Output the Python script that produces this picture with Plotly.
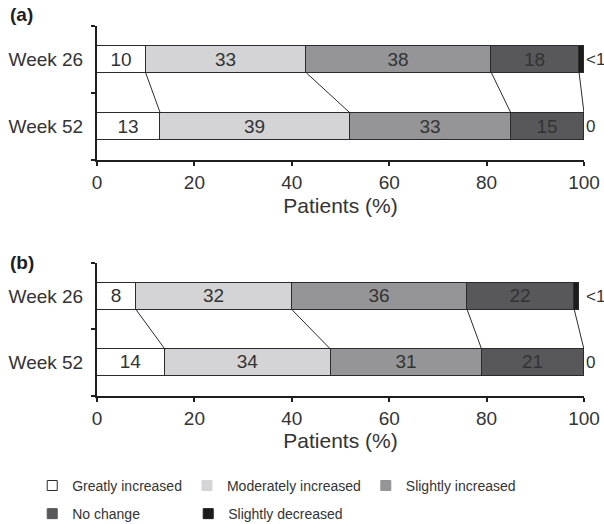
import plotly.graph_objects as go

# Response categories, in stacking order
categories = ["Greatly increased", "Moderately increased", "Slightly increased",
              "No change", "Slightly decreased"]
weeks = ["Week 26", "Week 52"]

# Percent of patients per category
panel_a_week26 = [10, 33, 38, 18, 0.9]
panel_a_week52 = [13, 39, 33, 15, 0]
panel_b_week26 = [8, 32, 36, 22, 0.9]
panel_b_week52 = [14, 34, 31, 21, 0]

x_ticks = [0, 20, 40, 60, 80, 100]
panel_labels = ["(a)", "(b)"]

colors = ["#ffffff", "#d4d4d6", "#959598", "#58585a", "#1c1c1c"]
edge = "#2b2b2b"
ink = "#333333"
FONT = "Liberation Sans, Arial, sans-serif"

BAR_W = 0.4
ypos = {"Week 26": 1, "Week 52": 0}


def value_text(v):
    return "" if v < 1 else f"{v:g}"


def side_text(v):
    if v == 0:
        return "0"
    return "<1" if v < 1 else f"{v:g}"


def cumsum(vals):
    out, s = [], 0
    for v in vals:
        s += v
        out.append(s)
    return out


fig = go.Figure()

panels = [
    ("x", "y", panel_a_week26, panel_a_week52),
    ("x2", "y2", panel_b_week26, panel_b_week52),
]

for xa, ya, w26, w52 in panels:
    for k, cat in enumerate(categories):
        vals = [w26[k], w52[k]]
        fig.add_trace(go.Bar(
            orientation="h",
            x=vals,
            y=[ypos[w] for w in weeks],
            width=BAR_W,
            marker=dict(color=colors[k], line=dict(color=edge, width=1)),
            text=[value_text(v) for v in vals],
            textposition="inside",
            insidetextanchor="middle",
            textangle=0,
            textfont=dict(size=19, color=ink, family=FONT),
            name=cat,
            showlegend=False,
            hoverinfo="skip",
            xaxis=xa, yaxis=ya,
        ))

    # connector lines between matching category boundaries of the two bars
    c26, c52 = cumsum(w26), cumsum(w52)
    lx, ly = [], []
    for k in range(len(categories) - 1):
        lx += [c26[k], c52[k], None]
        ly += [ypos["Week 26"] - BAR_W / 2, ypos["Week 52"] + BAR_W / 2, None]
    fig.add_trace(go.Scatter(
        x=lx, y=ly, mode="lines",
        line=dict(color=edge, width=1),
        showlegend=False, hoverinfo="skip",
        xaxis=xa, yaxis=ya,
    ))

    # value of the last category printed beside each bar
    for w, vals in zip(weeks, [w26, w52]):
        fig.add_annotation(
            x=100, y=ypos[w], xref=xa, yref=ya,
            text=side_text(vals[-1]), showarrow=False,
            xanchor="left", xshift=0,
            font=dict(size=17, color=ink, family=FONT),
        )

# legend entries: first three on one row, last two on a second row
for k, cat in enumerate(categories):
    fig.add_trace(go.Scatter(
        x=[None], y=[None], mode="markers", name=cat,
        marker=dict(symbol="square", size=10, color=colors[k],
                    line=dict(color=edge if k == 0 else colors[k], width=1)),
        legend="legend" if k < 3 else "legend2",
        legendwidth=111 if k == 3 else None,
        xaxis="x", yaxis="y",
    ))

axis_common = dict(
    showline=True, linecolor="#1e1e1e", linewidth=2,
    showgrid=False, zeroline=False,
)
xaxis_common = dict(
    axis_common, range=[0, 100], tickvals=x_ticks,
    ticks="outside", ticklen=4, tickwidth=1.5, tickcolor="#1e1e1e",
    tickfont=dict(size=19, color=ink, family=FONT),
    title=dict(text="Patients (%)", font=dict(size=21, color=ink, family=FONT), standoff=6),
)
yaxis_common = dict(
    axis_common, range=[-0.5, 1.5],
    tickvals=[ypos[w] for w in weeks], ticktext=weeks, ticks="",
    tickfont=dict(size=19, color=ink, family=FONT),
    ticklabelstandoff=8,
    minor=dict(tickvals=[-0.5, 0.5, 1.5], ticks="outside", ticklen=4,
               tickwidth=1.5, tickcolor="#1e1e1e"),
)

legend_font = dict(size=14, color=ink, family=FONT)

fig.update_layout(
    width=604, height=524,
    margin=dict(l=97, r=20, t=26, b=128, autoexpand=False),
    paper_bgcolor="white", plot_bgcolor="white",
    barmode="stack", bargap=0,
    font=dict(family=FONT, color=ink),
    xaxis=dict(xaxis_common, domain=[0, 1], anchor="y"),
    yaxis=dict(yaxis_common, domain=[0.6378, 1], anchor="x"),
    xaxis2=dict(xaxis_common, domain=[0, 1], anchor="y2"),
    yaxis2=dict(yaxis_common, domain=[0, 0.3595], anchor="x2"),
    uniformtext=dict(minsize=19, mode="show"),
    legend=dict(orientation="h", traceorder="normal",
                x=-0.133, xanchor="left", y=-0.243, yanchor="middle",
                font=legend_font, itemwidth=30, bgcolor="rgba(0,0,0,0)"),
    legend2=dict(orientation="h", traceorder="normal",
                 x=-0.133, xanchor="left", y=-0.319, yanchor="middle",
                 font=legend_font, itemwidth=30, bgcolor="rgba(0,0,0,0)"),
)

for label, y in zip(panel_labels, [1.032, 0.362]):
    fig.add_annotation(
        x=-0.183, y=y, xref="paper", yref="paper",
        text=f"<b>{label}</b>", showarrow=False,
        xanchor="left", yanchor="middle",
        font=dict(size=19, color="#1e1e1e", family=FONT),
    )

fig.write_html("out.html")
